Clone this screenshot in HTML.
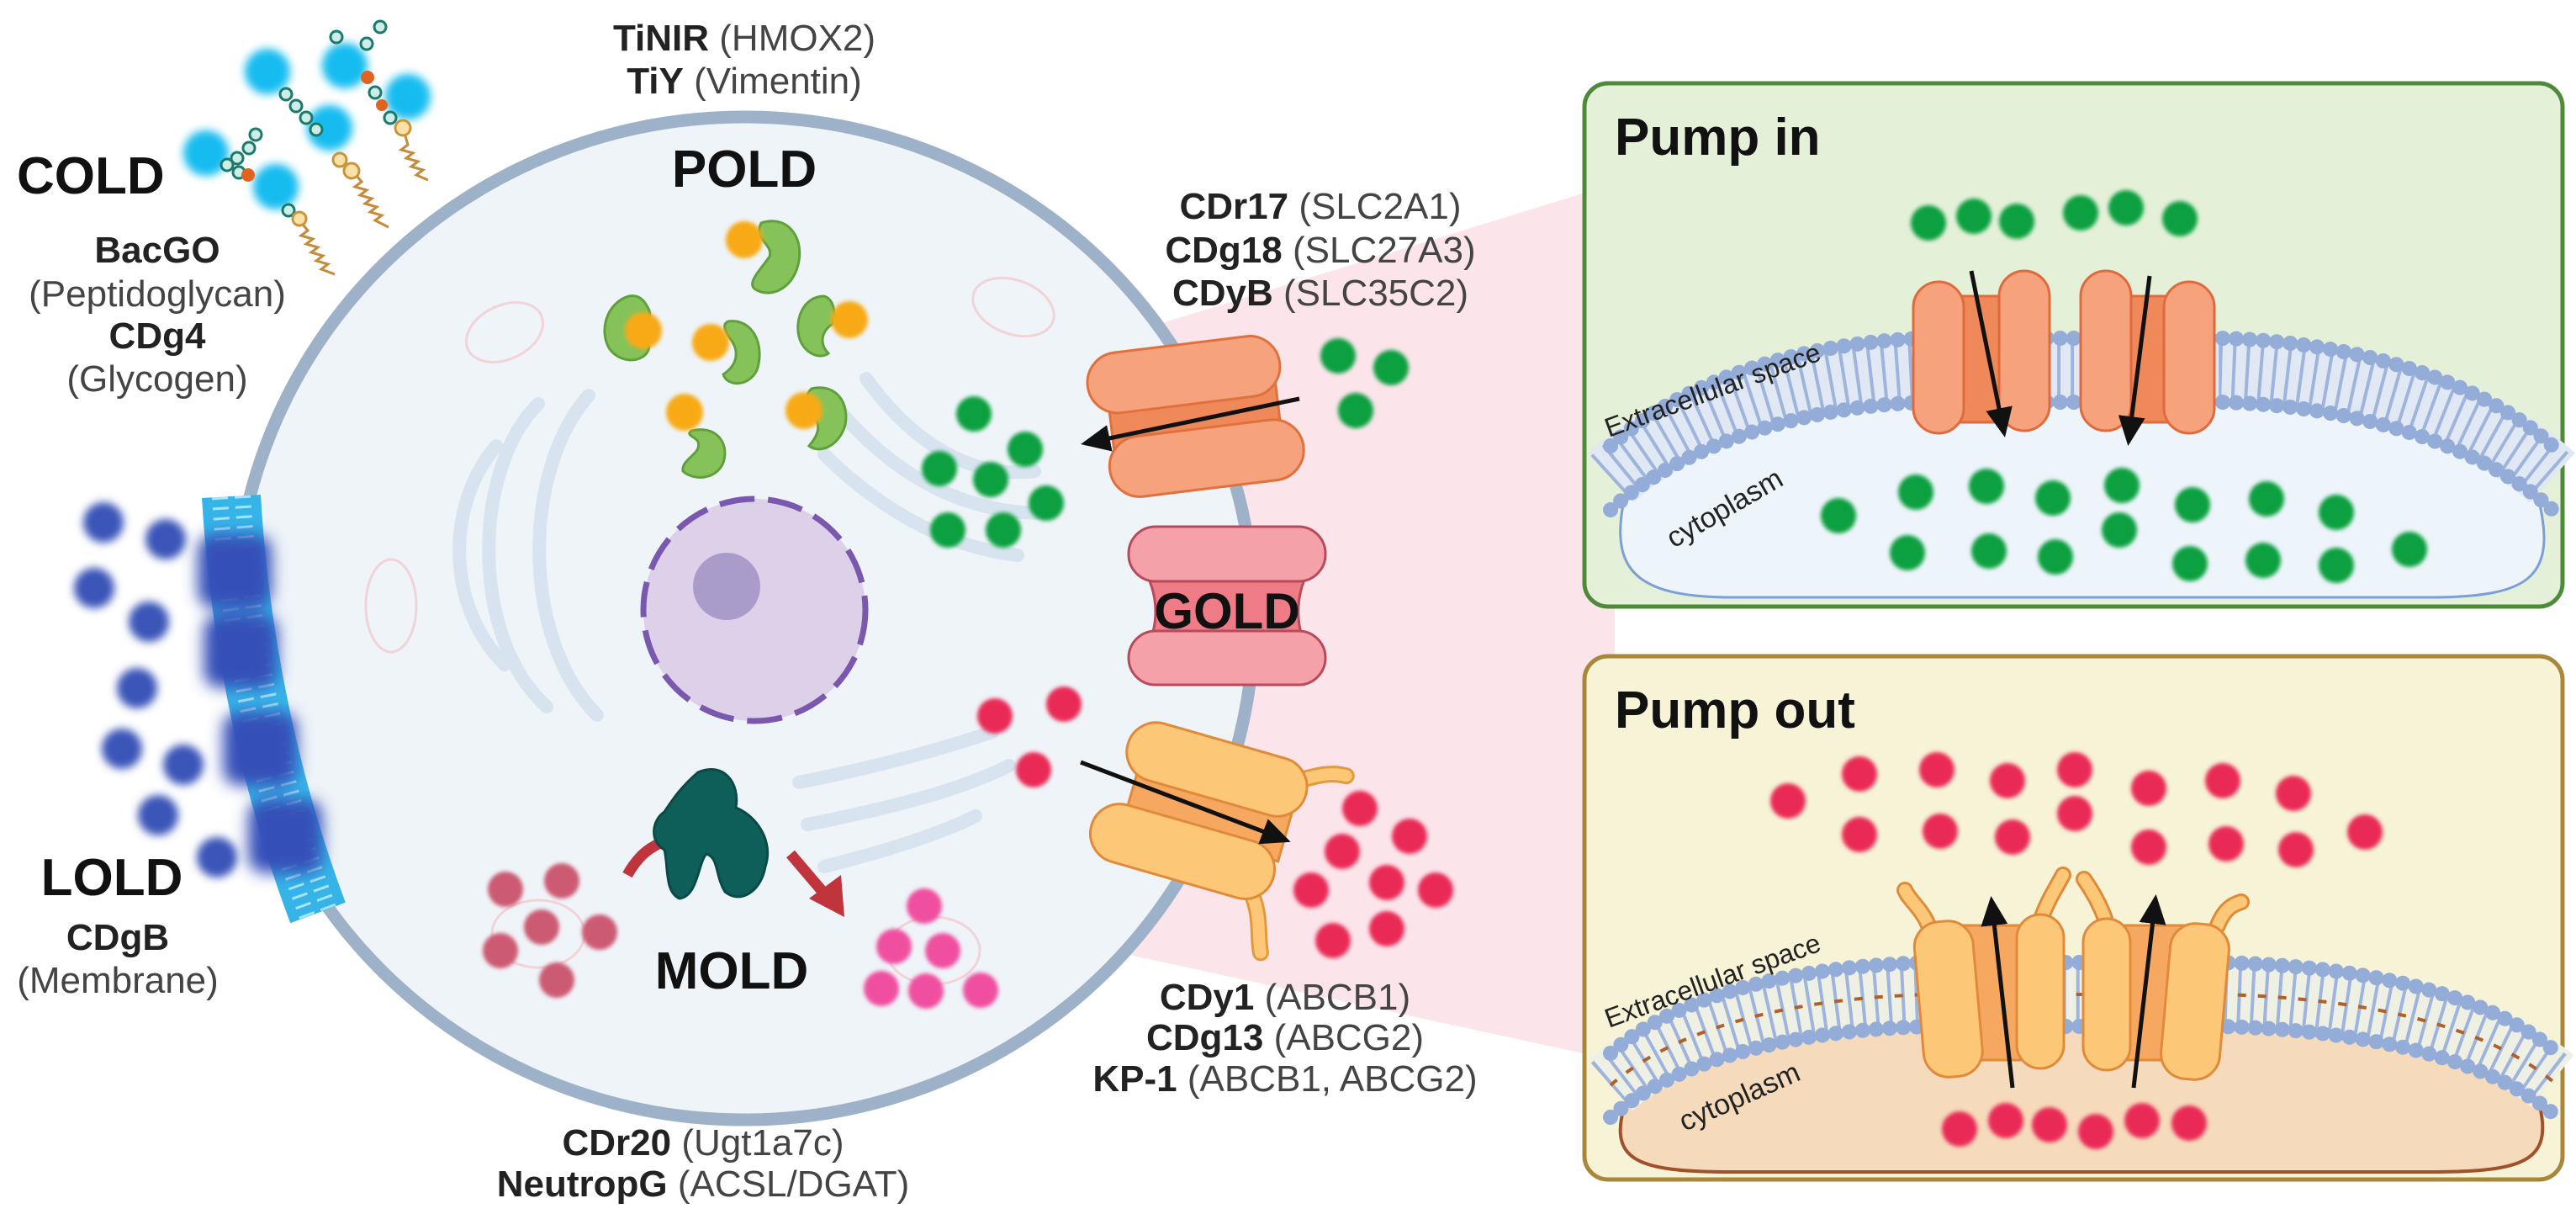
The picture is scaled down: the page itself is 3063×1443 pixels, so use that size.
<!DOCTYPE html>
<html><head><meta charset="utf-8"><style>
html,body{margin:0;padding:0;background:#fff;}
svg{display:block;}
text{font-family:"Liberation Sans",Arial,sans-serif;}
</style></head><body>
<svg width="3063" height="1443" viewBox="0 0 3063 1443" xmlns="http://www.w3.org/2000/svg">
<defs>
<filter id="b2" x="-50%" y="-50%" width="200%" height="200%"><feGaussianBlur stdDeviation="2.5"/></filter>
<filter id="b4" x="-50%" y="-50%" width="200%" height="200%"><feGaussianBlur stdDeviation="5"/></filter>
<filter id="b8" x="-50%" y="-50%" width="200%" height="200%"><feGaussianBlur stdDeviation="9"/></filter>
<marker id="ah" markerWidth="8" markerHeight="8" refX="6" refY="4" orient="auto" markerUnits="strokeWidth"><path d="M0,0.8 L7,4 L0,7.2 Z" fill="#111"/></marker>
</defs>

<polygon points="1330,400 1882,230 1920,230 1920,1253 1882,1252 1320,1130" fill="#fbe4ea"/>

<ellipse cx="885" cy="735" rx="606" ry="596" fill="#eef4f8" stroke="#9db2c8" stroke-width="15"/>

<g fill="none" stroke="#d5e3ef" stroke-width="16" stroke-linecap="round" opacity="0.9">
<path d="M640,480 C560,560 560,760 650,840"/>
<path d="M700,470 C620,560 620,760 710,850"/>
<path d="M590,530 C530,600 530,720 600,790"/>
<path d="M1030,450 C1080,520 1150,570 1230,560"/>
<path d="M1000,490 C1060,560 1140,610 1240,610"/>
<path d="M980,540 C1040,600 1120,650 1210,660"/>
<path d="M950,930 C1050,910 1120,890 1180,870"/>
<path d="M960,980 C1060,960 1140,940 1200,910"/>
<path d="M980,1030 C1060,1010 1120,990 1160,970"/>
</g>
<g fill="none" stroke="#f1d3d8" stroke-width="3">
<ellipse cx="600" cy="395" rx="48" ry="32" transform="rotate(-25 600 395)"/>
<ellipse cx="1205" cy="365" rx="50" ry="32" transform="rotate(20 1205 365)"/>
<ellipse cx="465" cy="720" rx="30" ry="55"/>
<ellipse cx="640" cy="1110" rx="55" ry="40"/>
<ellipse cx="1110" cy="1130" rx="55" ry="40"/>
</g>

<ellipse cx="897" cy="725" rx="132" ry="132" fill="#dcd1e8" stroke="#7a58ad" stroke-width="7" stroke-dasharray="42 16"/>
<circle cx="864" cy="697" r="40" fill="#a99ccb"/>

<g stroke="#c58a3a" stroke-width="3" fill="none">
<path d="M356,262 l10,12 l-8,6 l14,4 l-8,6 l14,4 l-8,6 l14,4 l-8,6 l14,4 l-8,6 l16,6"/>
<path d="M418,202 l12,14 l-8,6 l14,4 l-8,6 l14,4 l-8,6 l14,4 l-8,6 l14,4 l-8,6 l16,8"/>
<path d="M479,152 l6,20 l-8,6 l14,4 l-8,6 l14,4 l-8,6 l14,4 l-8,6 l14,6"/>
</g>
<g filter="url(#b4)" fill="#12bcf0">
<circle cx="245" cy="182" r="27"/><circle cx="328" cy="222" r="27"/>
<circle cx="318" cy="85" r="27"/><circle cx="392" cy="152" r="27"/>
<circle cx="410" cy="78" r="27"/><circle cx="485" cy="115" r="27"/>
</g>
<g stroke="#1b7a6c" stroke-width="3" fill="#cdeee8">
<circle cx="270" cy="196" r="7"/><circle cx="284" cy="205" r="7"/><circle cx="282" cy="188" r="7"/><circle cx="296" cy="176" r="7"/><circle cx="304" cy="160" r="7"/>
<circle cx="343" cy="250" r="7"/>
<circle cx="340" cy="112" r="7"/><circle cx="352" cy="126" r="7"/><circle cx="364" cy="140" r="7"/><circle cx="376" cy="154" r="7"/>
<circle cx="400" cy="44" r="7"/><circle cx="436" cy="52" r="7"/><circle cx="452" cy="32" r="7"/>
<circle cx="446" cy="110" r="7"/><circle cx="464" cy="140" r="7"/>
</g>
<g fill="#e06420"><circle cx="295" cy="208" r="8"/><circle cx="437" cy="92" r="8"/><circle cx="454" cy="125" r="7"/></g>
<g fill="#fbe0a8" stroke="#c8963a" stroke-width="3">
<circle cx="356" cy="260" r="8"/><circle cx="404" cy="190" r="8"/><circle cx="418" cy="203" r="9"/><circle cx="479" cy="152" r="9"/>
</g>

<!-- LOLD membrane strip -->
<path d="M275,590 C285,760 320,930 378,1085" fill="none" stroke="#36b4e8" stroke-width="70"/>
<path d="M275,590 C285,760 320,930 378,1085" fill="none" stroke="#a8e4f8" stroke-width="46" stroke-dasharray="3 9"/>
<path d="M275,590 C285,760 320,930 378,1085" fill="none" stroke="#36b4e8" stroke-width="8"/>
<g filter="url(#b8)" fill="#3450b8">
<rect x="235" y="635" width="88" height="88" rx="20"/>
<rect x="242" y="730" width="88" height="88" rx="20"/>
<rect x="265" y="846" width="88" height="88" rx="20"/>
<rect x="295" y="950" width="88" height="88" rx="20"/>
</g>
<g filter="url(#b4)" fill="#3a55b8">
<circle cx="123" cy="621" r="24"/><circle cx="197" cy="641" r="24"/><circle cx="112" cy="699" r="24"/>
<circle cx="177" cy="739" r="24"/><circle cx="163" cy="818" r="24"/><circle cx="145" cy="890" r="24"/>
<circle cx="218" cy="909" r="24"/><circle cx="188" cy="969" r="24"/><circle cx="258" cy="1019" r="24"/>
</g>

<g>
<g fill="#86c25a" stroke="#5fa03c" stroke-width="3">
<path d="M905,265 C935,255 955,280 950,310 C945,340 920,355 900,345 C885,338 905,320 915,305 C920,290 895,285 905,265Z"/>
<path d="M748,352 C720,360 712,395 725,415 C740,435 770,430 772,412 C760,400 780,380 770,365 C765,355 758,350 748,352Z"/>
<path d="M866,382 C895,378 910,410 900,440 C890,460 865,460 860,445 C875,435 880,420 870,405 C862,395 858,385 866,382Z"/>
<path d="M980,352 C955,352 945,380 950,400 C955,420 975,428 985,420 C975,410 975,395 990,385 C995,370 990,355 980,352Z"/>
<path d="M822,512 C850,505 868,525 860,550 C852,570 825,572 812,560 C810,545 835,540 830,525 C826,518 815,518 822,512Z"/>
<path d="M965,462 C995,455 1010,480 1005,505 C998,530 975,540 962,530 C975,515 975,505 968,495 C960,485 955,470 965,462Z"/>
</g>
<g filter="url(#b2)" fill="#f8aa18">
<circle cx="885" cy="285" r="22"/><circle cx="765" cy="393" r="22"/><circle cx="845" cy="407" r="22"/>
<circle cx="1010" cy="380" r="22"/><circle cx="814" cy="490" r="22"/><circle cx="956" cy="488" r="22"/>
</g>
</g>

<g filter="url(#b2)" fill="#0aa040">
<circle cx="1158" cy="492" r="21"/><circle cx="1219" cy="534" r="21"/><circle cx="1117" cy="557" r="21"/>
<circle cx="1178" cy="570" r="21"/><circle cx="1244" cy="598" r="21"/><circle cx="1127" cy="630" r="21"/><circle cx="1193" cy="630" r="21"/>
<circle cx="1591" cy="423" r="21"/><circle cx="1654" cy="437" r="21"/><circle cx="1612" cy="488" r="21"/>
</g>
<g filter="url(#b2)" fill="#ea2a56">
<circle cx="1183" cy="851" r="21"/><circle cx="1265" cy="837" r="21"/><circle cx="1229" cy="915" r="21"/>
<circle cx="1617" cy="961" r="21"/><circle cx="1676" cy="994" r="21"/><circle cx="1596" cy="1012" r="21"/>
<circle cx="1649" cy="1049" r="21"/><circle cx="1559" cy="1058" r="21"/><circle cx="1707" cy="1058" r="21"/>
<circle cx="1585" cy="1118" r="21"/><circle cx="1649" cy="1104" r="21"/>
</g>

<g transform="rotate(-7 1420 490)">
<rect x="1320" y="465" width="200" height="58" fill="#f0895a" stroke="#e0703c" stroke-width="3"/>
<rect x="1298" y="408" width="230" height="72" rx="36" fill="#f6a27c" stroke="#e0703c" stroke-width="3"/>
<rect x="1312" y="510" width="232" height="72" rx="36" fill="#f6a27c" stroke="#e0703c" stroke-width="3"/>
</g>
<line x1="1545" y1="474" x2="1290" y2="527" stroke="#111" stroke-width="5" marker-end="url(#ah)"/>

<path d="M1362,680 L1555,680 C1540,710 1540,745 1555,772 L1362,772 C1378,745 1378,710 1362,680Z" fill="#ee7b86" stroke="#b84a5c" stroke-width="3"/>
<rect x="1342" y="626" width="234" height="65" rx="32" fill="#f4a1a9" stroke="#b84a5c" stroke-width="3"/>
<rect x="1342" y="750" width="234" height="64" rx="32" fill="#f4a1a9" stroke="#b84a5c" stroke-width="3"/>
<text x="1459" y="747" font-size="60" font-weight="bold" text-anchor="middle" fill="#111">GOLD</text>

<g transform="rotate(16 1440 975)">
<path d="M1520,905 C1545,890 1560,880 1580,880" stroke="#e59a3a" stroke-width="20" stroke-linecap="round" fill="none"/>
<path d="M1520,905 C1545,890 1560,880 1580,880" stroke="#fcc777" stroke-width="14" stroke-linecap="round" fill="none"/>
<path d="M1510,1045 C1530,1070 1530,1090 1540,1110" stroke="#e59a3a" stroke-width="20" stroke-linecap="round" fill="none"/>
<path d="M1510,1045 C1530,1070 1530,1090 1540,1110" stroke="#fcc777" stroke-width="14" stroke-linecap="round" fill="none"/>
<rect x="1340" y="935" width="190" height="65" fill="#f6a860" stroke="#e08a3a" stroke-width="3"/>
<rect x="1320" y="880" width="220" height="70" rx="35" fill="#fcc777" stroke="#e08a3a" stroke-width="3"/>
<rect x="1305" y="985" width="225" height="70" rx="35" fill="#fcc777" stroke="#e08a3a" stroke-width="3"/>
</g>
<line x1="1285" y1="906" x2="1530" y2="999" stroke="#111" stroke-width="5" marker-end="url(#ah)"/>

<path d="M746,1040 C760,1015 775,1005 795,998" stroke="#c0343c" stroke-width="13" fill="none"/>
<path d="M940,1015 L980,1062" stroke="#c0343c" stroke-width="13" fill="none"/>
<polygon points="962,1068 1000,1040 1004,1090" fill="#c0343c"/>
<path d="M830,918 C860,905 880,930 875,960 C900,970 920,1000 910,1030 C905,1060 880,1075 862,1060 C850,1040 855,1020 840,1015 C830,1025 830,1065 808,1068 C790,1060 795,1030 790,1010 C772,1000 775,975 790,965 C800,950 810,935 830,918Z" fill="#0e5e5a" stroke="#0a4a46" stroke-width="3"/>
<g filter="url(#b2)" fill="#cc5a72">
<circle cx="601" cy="1057" r="21"/><circle cx="668" cy="1047" r="21"/><circle cx="644" cy="1102" r="21"/>
<circle cx="595" cy="1130" r="21"/><circle cx="713" cy="1108" r="21"/><circle cx="662" cy="1165" r="21"/>
</g>
<g filter="url(#b2)" fill="#f04fa0">
<circle cx="1099" cy="1077" r="21"/><circle cx="1063" cy="1125" r="21"/><circle cx="1121" cy="1130" r="21"/>
<circle cx="1048" cy="1175" r="21"/><circle cx="1101" cy="1178" r="21"/><circle cx="1166" cy="1177" r="21"/>
</g>

<g font-size="44" fill="#222" text-anchor="middle">
<text x="885" y="60"><tspan font-weight="bold">TiNIR</tspan> <tspan fill="#444">(HMOX2)</tspan></text>
<text x="885" y="111"><tspan font-weight="bold">TiY</tspan> <tspan fill="#444">(Vimentin)</tspan></text>
<text x="187" y="312" font-weight="bold">BacGO</text>
<text x="187" y="364" fill="#444">(Peptidoglycan)</text>
<text x="187" y="414" font-weight="bold">CDg4</text>
<text x="187" y="465" fill="#444">(Glycogen)</text>
<text x="1570" y="260"><tspan font-weight="bold">CDr17</tspan> <tspan fill="#444">(SLC2A1)</tspan></text>
<text x="1570" y="312"><tspan font-weight="bold">CDg18</tspan> <tspan fill="#444">(SLC27A3)</tspan></text>
<text x="1570" y="363"><tspan font-weight="bold">CDyB</tspan> <tspan fill="#444">(SLC35C2)</tspan></text>
<text x="140" y="1129" font-weight="bold">CDgB</text>
<text x="140" y="1180" fill="#444">(Membrane)</text>
<text x="836" y="1373"><tspan font-weight="bold">CDr20</tspan> <tspan fill="#444">(Ugt1a7c)</tspan></text>
<text x="836" y="1422"><tspan font-weight="bold">NeutropG</tspan> <tspan fill="#444">(ACSL/DGAT)</tspan></text>
<text x="1528" y="1200"><tspan font-weight="bold">CDy1</tspan> <tspan fill="#444">(ABCB1)</tspan></text>
<text x="1528" y="1248"><tspan font-weight="bold">CDg13</tspan> <tspan fill="#444">(ABCG2)</tspan></text>
<text x="1528" y="1297"><tspan font-weight="bold">KP-1</tspan> <tspan fill="#444">(ABCB1, ABCG2)</tspan></text>
</g>
<g font-size="62" font-weight="bold" fill="#111">
<text x="20" y="230">COLD</text>
<text x="885" y="222" text-anchor="middle">POLD</text>
<text x="133" y="1064" text-anchor="middle">LOLD</text>
<text x="870" y="1175" text-anchor="middle">MOLD</text>
</g>

<rect x="1884" y="99" width="1163" height="622" rx="28" fill="#e4f0d8" stroke="#4f8a3a" stroke-width="5"/>
<text x="1920" y="184" font-size="62" font-weight="bold" fill="#111">Pump in</text>
<path d="M1930,600 C1990,525 2150,480 2300,478 L2640,478 C2800,482 2950,525 3020,600 C3040,690 3000,708 2900,710 L2050,710 C1950,708 1915,680 1930,600Z" fill="#edf4fa" stroke="#7b9fd6" stroke-width="3"/>
<g fill="none">
<path d="M1915,568 C2000,490 2150,442 2300,440 L2640,440 C2800,444 2950,490 3035,568" stroke="#dfe8f3" stroke-width="80"/>
<path d="M1915,568 C2000,490 2150,442 2300,440 L2640,440 C2800,444 2950,490 3035,568" stroke="#9fb4dc" stroke-width="70" stroke-dasharray="4 12"/>
<path d="M1915,530 C2000,452 2150,404 2300,402 L2640,402 C2800,406 2950,452 3035,530" stroke="#94acd8" stroke-width="18" stroke-dasharray="0.1 16" stroke-linecap="round"/>
<path d="M1915,606 C2000,528 2150,480 2300,478 L2640,478 C2800,482 2950,528 3035,606" stroke="#94acd8" stroke-width="18" stroke-dasharray="0.1 16" stroke-linecap="round"/>
</g>
<text font-size="32" fill="#222" transform="translate(1913,520) rotate(-20)">Extracellular space</text>
<text font-size="34" fill="#222" transform="translate(1990,652) rotate(-30)">cytoplasm</text>
<g stroke="#e06a3c" stroke-width="3">
<rect x="2322" y="352" width="62" height="150" fill="#f0895a"/>
<rect x="2275" y="335" width="60" height="180" rx="30" fill="#f6a27c"/>
<rect x="2377" y="322" width="60" height="190" rx="30" fill="#f6a27c"/>
<rect x="2520" y="352" width="62" height="150" fill="#f0895a"/>
<rect x="2474" y="322" width="60" height="190" rx="30" fill="#f6a27c"/>
<rect x="2573" y="335" width="60" height="180" rx="30" fill="#f6a27c"/>
</g>
<line x1="2344" y1="322" x2="2383" y2="515" stroke="#111" stroke-width="5" marker-end="url(#ah)"/>
<line x1="2556" y1="328" x2="2531" y2="525" stroke="#111" stroke-width="5" marker-end="url(#ah)"/>
<g filter="url(#b2)" fill="#0aa040">
<circle cx="2293" cy="265" r="21"/><circle cx="2347" cy="257" r="21"/><circle cx="2398" cy="263" r="21"/>
<circle cx="2474" cy="253" r="21"/><circle cx="2528" cy="247" r="21"/><circle cx="2592" cy="260" r="21"/>
<circle cx="2186" cy="613" r="21"/><circle cx="2278" cy="585" r="21"/><circle cx="2362" cy="578" r="21"/>
<circle cx="2441" cy="592" r="21"/><circle cx="2523" cy="577" r="21"/><circle cx="2520" cy="630" r="21"/>
<circle cx="2607" cy="600" r="21"/><circle cx="2268" cy="657" r="21"/><circle cx="2365" cy="655" r="21"/>
<circle cx="2444" cy="662" r="21"/><circle cx="2604" cy="670" r="21"/><circle cx="2695" cy="593" r="21"/>
<circle cx="2778" cy="609" r="21"/><circle cx="2691" cy="666" r="21"/><circle cx="2778" cy="672" r="21"/>
<circle cx="2865" cy="653" r="21"/>
</g>

<rect x="1884" y="780" width="1163" height="622" rx="28" fill="#f6f3d6" stroke="#a8863a" stroke-width="5"/>
<text x="1920" y="865" font-size="62" font-weight="bold" fill="#111">Pump out</text>
<path d="M1930,1320 C1990,1250 2150,1222 2300,1220 L2640,1220 C2800,1224 2950,1250 3020,1315 C3035,1380 3000,1392 2900,1393 L2050,1393 C1950,1392 1915,1380 1930,1320Z" fill="#f5dbbb" stroke="#a0502a" stroke-width="4"/>
<g fill="none">
<path d="M1915,1290 C2000,1215 2150,1185 2300,1182 L2640,1182 C2800,1186 2950,1215 3035,1285" stroke="#eef0e4" stroke-width="80"/>
<path d="M1915,1290 C2000,1215 2150,1185 2300,1182 L2640,1182 C2800,1186 2950,1215 3035,1285" stroke="#9fb4dc" stroke-width="70" stroke-dasharray="4 12"/>
<path d="M1915,1290 C2000,1215 2150,1185 2300,1182 L2640,1182 C2800,1186 2950,1215 3035,1285" stroke="#b0602a" stroke-width="4" stroke-dasharray="10 14"/>
<path d="M1915,1252 C2000,1177 2150,1147 2300,1144 L2640,1144 C2800,1148 2950,1177 3035,1247" stroke="#94acd8" stroke-width="18" stroke-dasharray="0.1 16" stroke-linecap="round"/>
<path d="M1915,1328 C2000,1253 2150,1223 2300,1220 L2640,1220 C2800,1224 2950,1253 3035,1323" stroke="#94acd8" stroke-width="18" stroke-dasharray="0.1 16" stroke-linecap="round"/>
</g>
<text font-size="32" fill="#222" transform="translate(1913,1222) rotate(-20)">Extracellular space</text>
<text font-size="34" fill="#222" transform="translate(2003,1345) rotate(-24)">cytoplasm</text>
<g stroke="#e08a3a" stroke-width="3">
<path d="M2293,1100 C2285,1080 2270,1070 2265,1058" stroke="#e08a3a" stroke-width="20" stroke-linecap="round" fill="none"/>
<path d="M2293,1100 C2285,1080 2270,1070 2265,1058" stroke="#fcc777" stroke-width="14" stroke-linecap="round" fill="none"/>
<path d="M2427,1092 C2435,1070 2445,1055 2453,1040" stroke="#e08a3a" stroke-width="20" stroke-linecap="round" fill="none"/>
<path d="M2427,1092 C2435,1070 2445,1055 2453,1040" stroke="#fcc777" stroke-width="14" stroke-linecap="round" fill="none"/>
<path d="M2503,1092 C2495,1070 2485,1055 2478,1045" stroke="#e08a3a" stroke-width="20" stroke-linecap="round" fill="none"/>
<path d="M2503,1092 C2495,1070 2485,1055 2478,1045" stroke="#fcc777" stroke-width="14" stroke-linecap="round" fill="none"/>
<path d="M2637,1100 C2645,1080 2655,1075 2665,1072" stroke="#e08a3a" stroke-width="20" stroke-linecap="round" fill="none"/>
<path d="M2637,1100 C2645,1080 2655,1075 2665,1072" stroke="#fcc777" stroke-width="14" stroke-linecap="round" fill="none"/>
<rect x="2330" y="1100" width="75" height="160" fill="#f6a860"/>
<rect x="2282" y="1095" width="70" height="185" rx="30" fill="#fcc777" transform="rotate(-5 2317 1190)"/>
<rect x="2398" y="1087" width="56" height="183" rx="28" fill="#fcc777"/>
<rect x="2525" y="1100" width="75" height="160" fill="#f6a860"/>
<rect x="2477" y="1092" width="56" height="180" rx="28" fill="#fcc777"/>
<rect x="2575" y="1098" width="70" height="185" rx="30" fill="#fcc777" transform="rotate(5 2610 1190)"/>
</g>
<line x1="2393" y1="1293" x2="2368" y2="1070" stroke="#111" stroke-width="5" marker-end="url(#ah)"/>
<line x1="2537" y1="1293" x2="2563" y2="1068" stroke="#111" stroke-width="5" marker-end="url(#ah)"/>
<g filter="url(#b2)" fill="#ea2a56">
<circle cx="2126" cy="952" r="21"/><circle cx="2211" cy="920" r="21"/><circle cx="2303" cy="915" r="21"/>
<circle cx="2387" cy="928" r="21"/><circle cx="2467" cy="915" r="21"/><circle cx="2467" cy="967" r="21"/>
<circle cx="2555" cy="937" r="21"/><circle cx="2643" cy="928" r="21"/><circle cx="2727" cy="943" r="21"/>
<circle cx="2211" cy="992" r="21"/><circle cx="2307" cy="988" r="21"/><circle cx="2393" cy="995" r="21"/>
<circle cx="2555" cy="1007" r="21"/><circle cx="2647" cy="1003" r="21"/><circle cx="2730" cy="1010" r="21"/>
<circle cx="2812" cy="989" r="21"/>
<circle cx="2330" cy="1342" r="21"/><circle cx="2385" cy="1332" r="21"/><circle cx="2437" cy="1337" r="21"/>
<circle cx="2492" cy="1345" r="21"/><circle cx="2547" cy="1332" r="21"/><circle cx="2603" cy="1335" r="21"/>
</g>
</svg>
</body></html>
